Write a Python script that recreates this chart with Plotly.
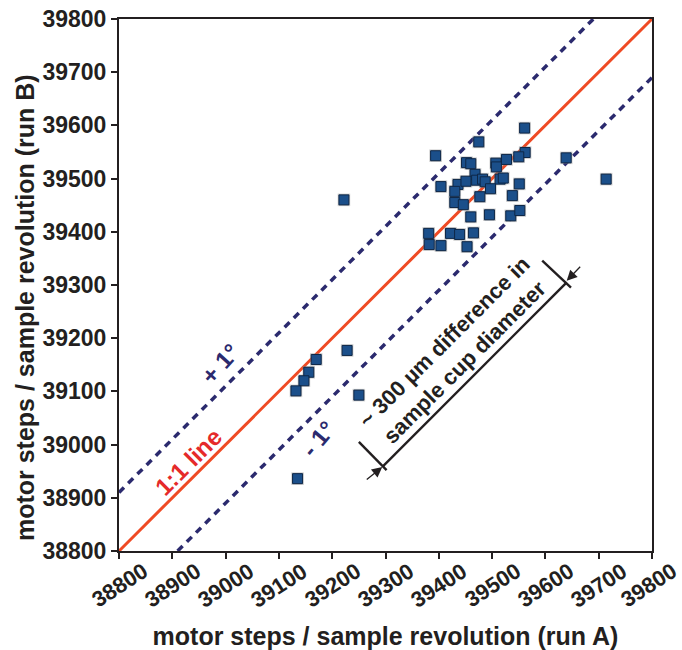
import plotly.graph_objects as go

# ---- data ----
run_a = [39561, 39475, 39394, 39562, 39550, 39527, 39639, 39452, 39460, 39507,
         39508, 39468, 39404, 39436, 39451, 39471, 39482, 39487, 39515, 39521,
         39551, 39714, 39430, 39497, 39430, 39446, 39477, 39538, 39460, 39495,
         39535, 39552, 39381, 39422, 39439, 39465, 39382, 39404, 39453, 39222,
         39228, 39170, 39156, 39147, 39132, 39250, 39135]
run_b = [39595, 39569, 39543, 39549, 39541, 39536, 39539, 39530, 39528, 39529,
         39522, 39508, 39485, 39489, 39495, 39497, 39499, 39494, 39499, 39501,
         39490, 39499, 39476, 39481, 39455, 39451, 39466, 39468, 39428, 39432,
         39430, 39440, 39397, 39397, 39395, 39398, 39376, 39374, 39372, 39460,
         39177, 39160, 39136, 39120, 39101, 39093, 38936]

tick_vals = [38800, 38900, 39000, 39100, 39200, 39300, 39400, 39500, 39600, 39700, 39800]
tick_text = [str(v) for v in tick_vals]
axis_min, axis_max = 38800, 39800
deg_steps = 110  # ~1 degree of a sample revolution in motor steps

FONT = "Arial, Liberation Sans, sans-serif"
DARK = "#231f20"
NAVY = "#2b2a6e"
ORANGE = "#ef4a24"
RED = "#e52a2a"
MARK = "#1b4f8a"

fig = go.Figure()

# 1:1 line
fig.add_trace(go.Scatter(x=[axis_min, axis_max], y=[axis_min, axis_max], mode="lines",
                         line=dict(color=ORANGE, width=3), hoverinfo="skip", showlegend=False))
# +1 deg line
fig.add_trace(go.Scatter(x=[axis_min, axis_max - deg_steps], y=[axis_min + deg_steps, axis_max],
                         mode="lines", line=dict(color=NAVY, width=3.5, dash="7px,6px"),
                         hoverinfo="skip", showlegend=False))
# -1 deg line
fig.add_trace(go.Scatter(x=[axis_min + deg_steps, axis_max], y=[axis_min, axis_max - deg_steps],
                         mode="lines", line=dict(color=NAVY, width=3.5, dash="7px,6px"),
                         hoverinfo="skip", showlegend=False))
# marker shadow
fig.add_trace(go.Scatter(x=run_a, y=run_b, mode="markers",
                         marker=dict(symbol="square", size=12.5, color="rgba(140,140,140,0.45)",
                                     line=dict(width=0)),
                         hoverinfo="skip", showlegend=False))
# data
fig.add_trace(go.Scatter(x=run_a, y=run_b, mode="markers",
                         marker=dict(symbol="square", size=10, color=MARK,
                                     line=dict(color="#0e2747", width=1)),
                         showlegend=False))

annotations = []
# x tick labels, centred under ticks and rotated
for v, t in zip(tick_vals, tick_text):
    annotations.append(dict(x=v, xref="x", y=0, yref="paper", text=t, showarrow=False,
                            textangle=-33, xanchor="center", yanchor="middle", yshift=-34,
                            xshift=-4 if v == tick_vals[-1] else 0,
                            font=dict(family=FONT, size=22, color=DARK, weight="bold")))

# y axis title
annotations.append(dict(x=-0.176, y=0.457, xref="paper", yref="paper",
                        text="motor steps / sample revolution (run B)", showarrow=False,
                        textangle=-90, xanchor="center", yanchor="middle",
                        font=dict(family=FONT, size=25, color=DARK, weight="bold")))

# line labels
annotations.append(dict(x=38931, y=38968, xref="x", yref="y", text="1:1 line", showarrow=False,
                        textangle=-45, font=dict(family=FONT, size=24, color=RED, weight="bold")))
annotations.append(dict(x=38990, y=39153, xref="x", yref="y", text="+ 1°", showarrow=False,
                        textangle=-48, font=dict(family=FONT, size=24, color=NAVY, weight="bold")))
annotations.append(dict(x=39174, y=39012, xref="x", yref="y", text="- 1°", showarrow=False,
                        textangle=-50, font=dict(family=FONT, size=24, color=NAVY, weight="bold")))
# dimension text
annotations.append(dict(x=39430, y=39174, xref="x", yref="y",
                        text="~ 300 µm difference in<br>sample cup diameter", showarrow=False,
                        textangle=-45, align="center",
                        font=dict(family=FONT, size=22, color=DARK, weight="bold")))
# dimension arrows
annotations.append(dict(x=39294, y=38958, ax=39262, ay=38932, xref="x", yref="y",
                        axref="x", ayref="y", text="", showarrow=True, arrowhead=2,
                        arrowsize=1.6, arrowwidth=1.3, arrowcolor=DARK))
annotations.append(dict(x=39640, y=39308, ax=39668, ay=39337, xref="x", yref="y",
                        axref="x", ayref="y", text="", showarrow=True, arrowhead=2,
                        arrowsize=1.6, arrowwidth=1.3, arrowcolor=DARK))

shapes = [
    dict(type="line", xref="x", yref="y", x0=39295, y0=38959, x1=39640, y1=39305,
         line=dict(color=DARK, width=2.4)),
    dict(type="line", xref="x", yref="y", x0=39250, y0=39005, x1=39302, y1=38952,
         line=dict(color=DARK, width=2.4)),
    dict(type="line", xref="x", yref="y", x0=39594, y0=39346, x1=39648, y1=39295,
         line=dict(color=DARK, width=2.4)),
]

axis_common = dict(range=[axis_min, axis_max], tickvals=tick_vals, ticktext=tick_text,
                   showgrid=False, zeroline=False, showline=True, linecolor=DARK, linewidth=2,
                   mirror=True, ticks="outside", ticklen=6, tickwidth=2, tickcolor=DARK)

fig.update_layout(
    width=682, height=650,
    margin=dict(l=119, r=30, t=19, b=99, autoexpand=False),
    paper_bgcolor="white", plot_bgcolor="white",
    xaxis=dict(**axis_common, showticklabels=False,
               title=dict(text="motor steps / sample revolution (run A)", standoff=70,
                          font=dict(family=FONT, size=25, color=DARK, weight="bold"))),
    yaxis=dict(**axis_common, showticklabels=True,
               tickfont=dict(family=FONT, size=23, color=DARK, weight="bold")),
    annotations=annotations,
    shapes=shapes,
)

fig.write_html("out.html")
